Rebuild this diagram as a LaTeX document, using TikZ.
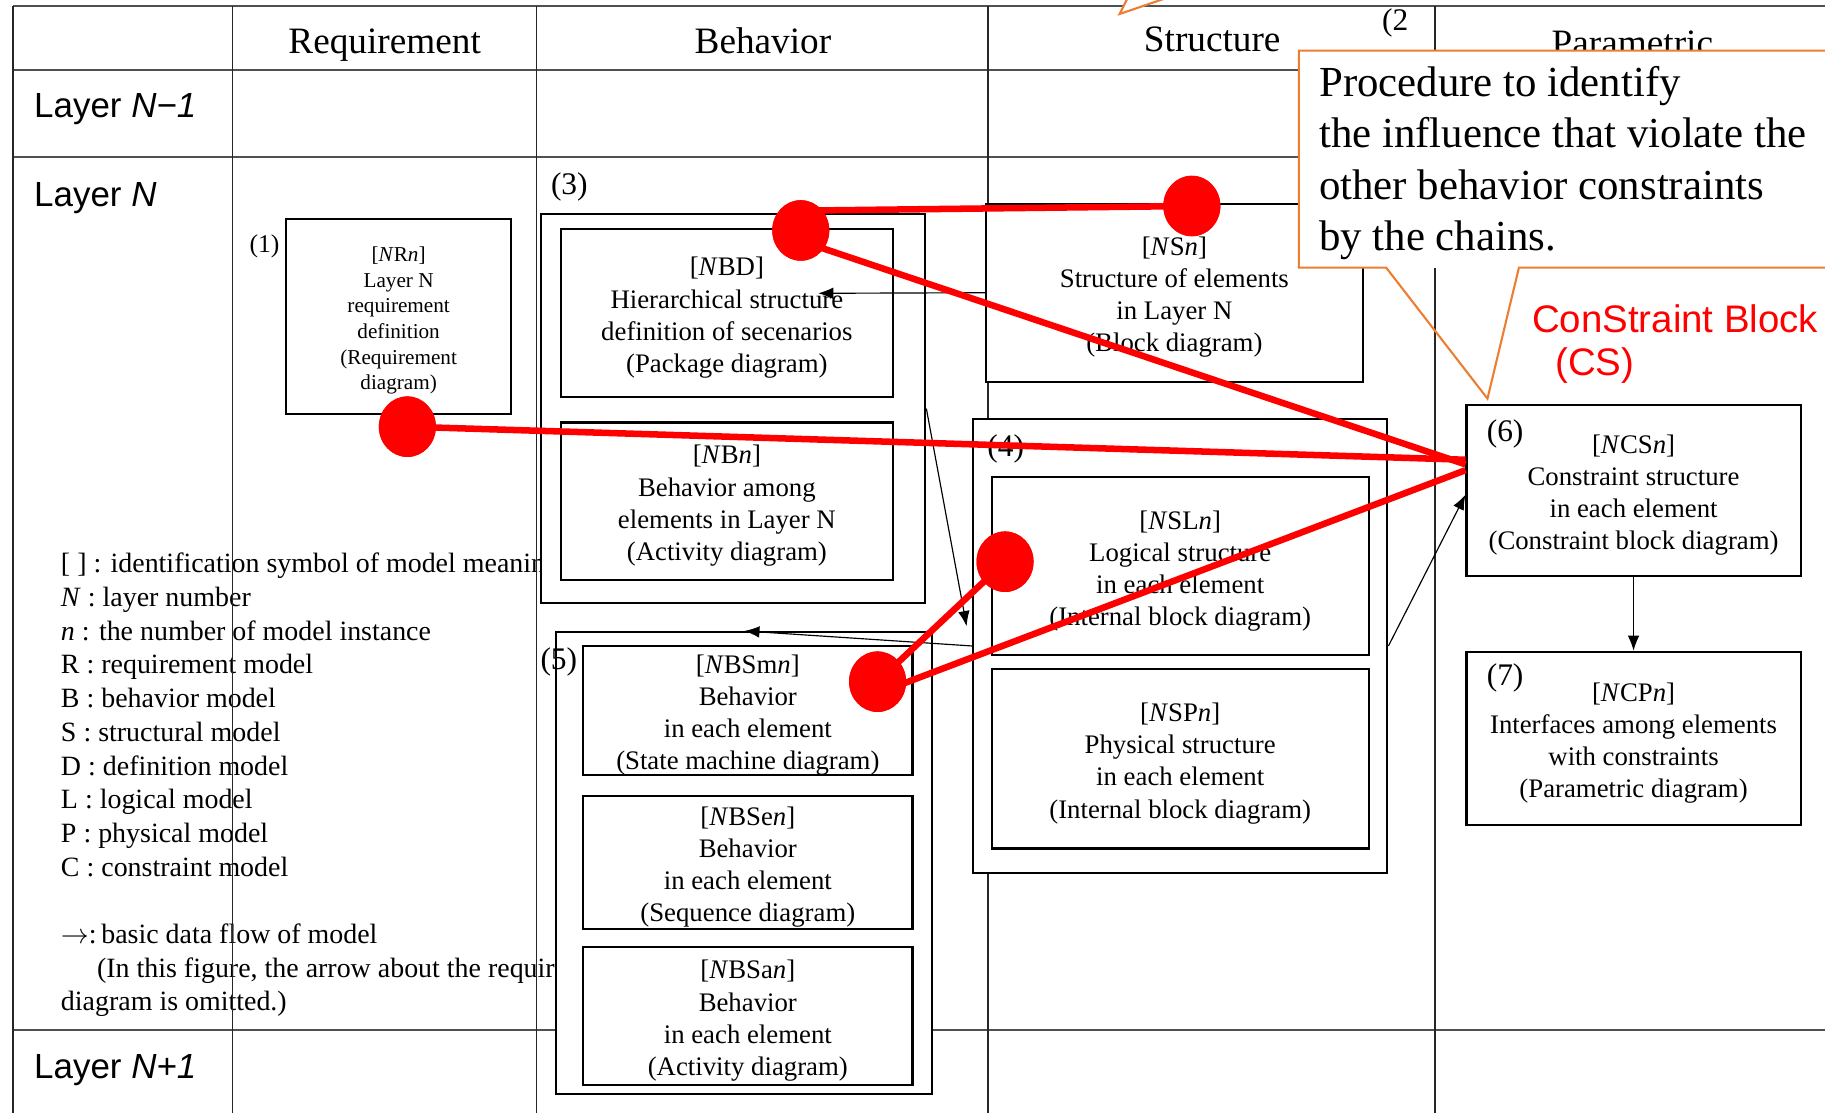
\documentclass[tikz,border=0pt]{standalone}
\usepackage{fontspec}
\setmainfont{Liberation Serif}
\newfontfamily\gothic{Liberation Sans}
\usetikzlibrary{arrows.meta,shapes.geometric}
\definecolor{callorange}{RGB}{237,125,49}
\definecolor{gridgray}{RGB}{80,80,80}

\begin{document}
\begin{tikzpicture}[x=0.5pt,y=-0.5pt,
  gridh/.style={draw=gridgray, line width=0.9pt},
  gridv/.style={draw=black!85, line width=0.6pt},
  colhead/.style={anchor=base, inner sep=0pt, font=\fontsize{16}{19}\selectfont},
  rowlabel/.style={anchor=base west, inner sep=0pt, font=\gothic\fontsize{15}{18}\selectfont},
  legendline/.style={anchor=base west, inner sep=0pt, font=\fontsize{12}{14.5}\selectfont},
  group/.style={draw, fill=white, line width=0.9pt, inner sep=0pt},
  panel/.style={draw, fill=white, line width=0.9pt, inner sep=0pt},
  ptext/.style={align=center, inner sep=0pt, yshift=-2pt, font=\fontsize{11.5}{13.8}\selectfont},
  psmall/.style={align=center, inner sep=0pt, yshift=-1.75pt, font=\fontsize{9.1}{11}\selectfont},
  numtag/.style={anchor=base west, inner sep=0pt, font=\fontsize{13.5}{16}\selectfont},
  flow/.style={draw, line width=0.5pt, -{Latex[length=6.5pt,width=5pt]}},
  redlink/.style={draw=red, line width=2.8pt},
  hit/.style={ellipse, fill=red, draw=none, inner sep=0pt, minimum width=24.5pt, minimum height=26pt},
  calloutline/.style={draw=callorange, line width=0.9pt, line join=miter},
  notetext/.style={anchor=base west, inner sep=0pt, font=\fontsize{18.4}{22}\selectfont},
  cslabel/.style={anchor=base west, inner sep=0pt, text=red, font=\gothic\fontsize{16.5}{20}\selectfont},
]
\useasboundingbox (0,0) rectangle (1568,956);
\clip (0,0) rectangle (1568,956);
\fill[white] (0,0) rectangle (1568,956);

% legend
\node[legendline] (l1) at (52,492) {[ ] : identification symbol of model meaning};
\node[legendline] (l2) at (52,521) {\textit{N} : layer number};
\node[legendline] (l3) at (52,550) {\textit{n} : the number of model instance};
\node[legendline] (l4) at (52,579) {R : requirement model};
\node[legendline] (l5) at (52,608) {B : behavior model};
\node[legendline] (l6) at (52,637) {S : structural model};
\node[legendline] (l7) at (52,666) {D : definition model};
\node[legendline] (l8) at (52,695) {L : logical model};
\node[legendline] (l9) at (52,724) {P : physical model};
\node[legendline] (l10) at (52,753) {C : constraint model};
\node[legendline] (l11) at (52,811) {$\rightarrow$:\,basic data flow of model};
\node[legendline] (l12) at (83,840) {(In this figure, the arrow about the requirement};
\node[legendline] (l13) at (52,868) {diagram is omitted.)};

% table grid
\draw[gridh] (11,5) -- (1568,5);
\draw[gridh] (11,60) -- (1568,60);
\draw[gridh] (11,135) -- (1568,135);
\draw[gridh] (11,885) -- (1568,885);
\draw[gridv] (11,5) -- (11,956);
\draw[gridv] (200,5) -- (200,956);
\draw[gridv] (461,5) -- (461,956);
\draw[gridv] (849,5) -- (849,956);
\draw[gridv] (1233,5) -- (1233,956);

% column headers and row labels
\node[colhead] (hreq) at (330.5,46) {Requirement};
\node[colhead] (hbeh) at (655.5,46) {Behavior};
\node[colhead] (hstr) at (1041.5,44) {Structure};
\node[colhead] (hpar) at (1402.5,48) {Parametric};
\node[numtag] (tag2) at (1187,26) {(2};
\node[rowlabel] (rprev) at (29,101) {Layer \textit{N−1}};
\node[rowlabel] (rcur) at (29,177.5) {Layer \textit{N}};
\node[rowlabel] (rnext) at (29,926.5) {Layer \textit{N+1}};

% grouping frames
\node[group, minimum width=165pt, minimum height=167pt] (b3) at (630,351) {};
\node[group, minimum width=178pt, minimum height=195pt] (b4) at (1014,555) {};
\node[group, minimum width=161.5pt, minimum height=198.5pt] (b5) at (639.5,741.5) {};

% model boxes
\node[panel, line width=0.8pt, minimum width=96.5pt, minimum height=84pt,
  label={[psmall]center:{[\textit{N}R\textit{n}]\\Layer N\\requirement\\definition\\(Requirement\\diagram)}}] (nrn) at (342.5,272) {};
\node[panel, minimum width=142.5pt, minimum height=72pt,
  label={[ptext]center:{[\textit{N}BD]\\Hierarchical structure\\definition of secenarios\\(Package diagram)}}] (nbd) at (624.5,269) {};
\node[panel, minimum width=142.5pt, minimum height=67.5pt,
  label={[ptext]center:{[\textit{N}B\textit{n}]\\Behavior among\\elements in Layer N\\(Activity diagram)}}] (nbn) at (624.5,430.5) {};
\node[panel, minimum width=141.5pt, minimum height=55.5pt,
  label={[ptext]center:{[\textit{N}BSm\textit{n}]\\Behavior\\in each element\\(State machine diagram)}}] (nbsm) at (642.5,610.5) {};
\node[panel, minimum width=141.5pt, minimum height=57pt,
  label={[ptext]center:{[\textit{N}BSe\textit{n}]\\Behavior\\in each element\\(Sequence diagram)}}] (nbse) at (642.5,741) {};
\node[panel, minimum width=141.5pt, minimum height=59pt,
  label={[ptext]center:{[\textit{N}BSa\textit{n}]\\Behavior\\in each element\\(Activity diagram)}}] (nbsa) at (642.5,873) {};
\node[panel, minimum width=162pt, minimum height=76.5pt,
  label={[ptext]center:{[\textit{N}S\textit{n}]\\Structure of elements\\in Layer N\\(Block diagram)}}] (nsn) at (1009,251.5) {};
\node[panel, minimum width=162pt, minimum height=76.5pt,
  label={[ptext]center:{[\textit{N}SL\textit{n}]\\Logical structure\\in each element\\(Internal block diagram)}}] (nsl) at (1014,486.5) {};
\node[panel, minimum width=162pt, minimum height=77pt,
  label={[ptext]center:{[\textit{N}SP\textit{n}]\\Physical structure\\in each element\\(Internal block diagram)}}] (nsp) at (1014,652) {};
\node[panel, minimum width=143.5pt, minimum height=73.5pt,
  label={[ptext]center:{[\textit{N}CS\textit{n}]\\Constraint structure\\in each element\\(Constraint block diagram)}}] (ncs) at (1403.5,421.5) {};
\node[panel, minimum width=143.5pt, minimum height=74.5pt,
  label={[ptext]center:{[\textit{N}CP\textit{n}]\\Interfaces among elements\\with constraints\\(Parametric diagram)}}] (ncp) at (1403.5,634.5) {};

% numbering
\node[numtag, font=\fontsize{11}{13}\selectfont] (tag1) at (214,217) {(1)};
\node[numtag] (tag3) at (473,167) {(3)};
\node[numtag] (tag4) at (848,392) {(4)};
\node[numtag] (tag5) at (464,575) {(5)};
\node[numtag] (tag6) at (1277,379) {(6)};
\node[numtag] (tag7) at (1277,589) {(7)};

% basic data flow
\coordinate (t1) at (703,252);
\coordinate (t2) at (830.5,538);
\draw[flow] (nsn.west) -- (t1);
\draw[flow] (b3.east) -- (t2);
\draw[flow] (b4.west) -- (b5.north);
\draw[flow] (b4.east) -- ([yshift=-1.75pt]ncs.west);
\draw[flow] (ncs.south) -- (ncp.north);

% influence chains
\node[hit] (da) at (688,198) {};
\node[hit] (db) at (1024,177) {};
\node[hit] (dc) at (350,366.6) {};
\node[hit] (dd) at (863.5,482.6) {};
\node[hit] (de) at (754,585.7) {};
\draw[redlink] ([yshift=8.5pt]da.center) -- (db.center);
\draw[redlink] ([yshift=-4.5pt]da.center) -- ([yshift=11.25pt]ncs.west);
\draw[redlink] (dc.center) -- ([yshift=13.25pt]ncs.west);
\draw[redlink] (dd.center) -- (de.center);
\draw[redlink] ([yshift=-5pt]de.center) -- ([yshift=8.75pt]ncs.west);
\node[hit] at (da) {};
\node[hit] at (db) {};
\node[hit] at (dc) {};
\node[hit] at (dd) {};
\node[hit] at (de) {};

% callout
\fill[white] (1116,43.5) rectangle (1600,230);
\draw[calloutline] (1600,43.5) -- (1116,43.5) -- (1116,230) -- (1191,230)
  -- (1278,342.5) -- (1305,230) -- (1600,230);
\node[notetext] (q1) at (1133,83) {Procedure to identify};
\node[notetext] (q2) at (1133,127) {the influence that violate the};
\node[notetext] (q3) at (1133,171) {other behavior constraints};
\node[notetext] (q4) at (1133,215) {by the chains.};
\filldraw[calloutline, fill=white] (969,-2) -- (962,12) -- (1003,-2);

\node[cslabel] (cs1) at (1316,286) {ConStraint Block};
\node[cslabel] (cs2) at (1336,323) {(CS)};
\end{tikzpicture}
\end{document}
